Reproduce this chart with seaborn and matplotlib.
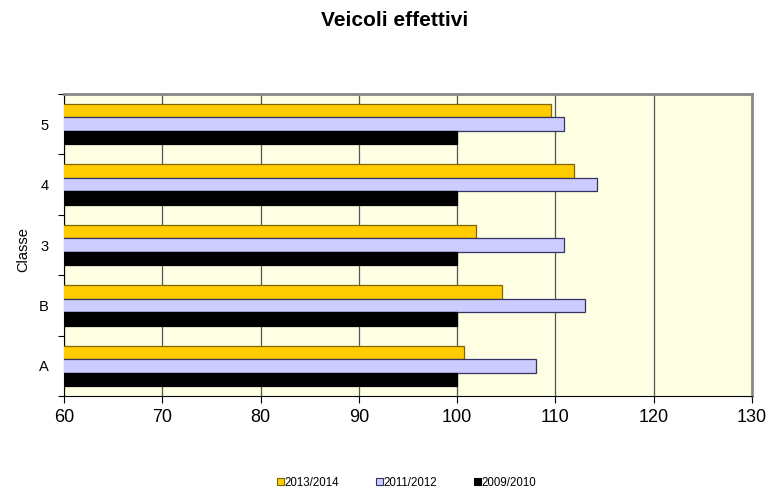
import numpy as np
import pandas as pd
import seaborn as sns
import matplotlib.pyplot as plt
from matplotlib.patches import Patch
from matplotlib.ticker import FixedLocator

# Classes (top to bottom) and the three seasons
classes = ["5", "4", "3", "B", "A"]
seasons = ["2013/2014", "2011/2012", "2009/2010"]
v_2013_2014 = [109.5, 111.9, 101.9, 104.6, 100.7]
v_2011_2012 = [110.9, 114.2, 110.9, 113.0, 108.0]
v_2009_2010 = [100.0, 100.0, 100.0, 100.0, 100.0]
x_ticks = [60, 70, 80, 90, 100, 110, 120, 130]

colors = {"2013/2014": "#FFCC00", "2011/2012": "#CCCCFF", "2009/2010": "#000000"}
edges = {"2013/2014": "#806600", "2011/2012": "#333366", "2009/2010": "#000000"}

df = pd.DataFrame({
    "Classe": classes * 3,
    "Stagione": [seasons[0]] * 5 + [seasons[1]] * 5 + [seasons[2]] * 5,
    "Valore": v_2013_2014 + v_2011_2012 + v_2009_2010,
})

sns.set_theme(style="white")
plt.rcParams["font.family"] = ["Liberation Sans", "DejaVu Sans"]
plt.rcParams["text.color"] = "#000000"
plt.rcParams["axes.labelcolor"] = "#000000"
plt.rcParams["xtick.color"] = "#000000"
plt.rcParams["ytick.color"] = "#000000"

fig = plt.figure(figsize=(7.74, 4.92), dpi=100)
ax = fig.add_axes([64 / 774, 1 - 396 / 492, (752 - 64) / 774, (396 - 94) / 492])
ax.set_facecolor("#FFFFE3")

sns.barplot(data=df, y="Classe", x="Valore", hue="Stagione",
            order=classes, hue_order=seasons, palette=colors,
            orient="h", width=0.67, dodge=True, legend=False, ax=ax,
            saturation=1, zorder=3)

for cont, s in zip(ax.containers, seasons):
    for bar in cont:
        bar.set_edgecolor(edges[s])
        bar.set_linewidth(0.9)

ax.set_xlim(60, 130)
ax.set_ylim(len(classes) - 0.5, -0.5)
ax.set_xticks(x_ticks)
ax.tick_params(axis="x", labelsize=13, length=5, width=0.8, color="#000000",
               labelcolor="#000000", direction="out", bottom=True, pad=4)
ax.xaxis.grid(True, color="#555555", linewidth=0.9, zorder=0)
ax.set_axisbelow(True)

# Category ticks sit between classes
ax.yaxis.set_minor_locator(FixedLocator(np.arange(-0.5, len(classes), 1.0)))
ax.tick_params(axis="y", which="major", length=0, labelsize=10.5, pad=11,
               labelcolor="#000000")
ax.tick_params(axis="y", which="minor", length=4, width=0.8, color="#000000",
               direction="out", left=True)

ax.set_xlabel("")
ax.set_ylabel("Classe", fontsize=10.5, color="#000000")
ax.yaxis.set_label_coords(-34 / 688, 0.5 - 5 / 302)

for side in ("top", "right"):
    ax.spines[side].set_color("#888888")
    ax.spines[side].set_linewidth(2)
for side in ("left", "bottom"):
    ax.spines[side].set_color("#000000")
    ax.spines[side].set_linewidth(0.8)

fig.text(395 / 774, 1 - 21 / 492, "Veicoli effettivi", ha="center", va="center",
         fontsize=15, fontweight="bold", color="#000000")

handles = [Patch(facecolor=colors[s], edgecolor=edges[s], linewidth=0.8, label=s)
           for s in seasons]
fig.legend(handles=handles, loc="center", bbox_to_anchor=(407 / 774, 1 - 483 / 492),
           ncol=3, frameon=False, fontsize=8.3, handlelength=0.55, handleheight=0.55,
           handletextpad=0.1, columnspacing=3.2, labelcolor="#000000")

fig.savefig("out.png", dpi=100)
